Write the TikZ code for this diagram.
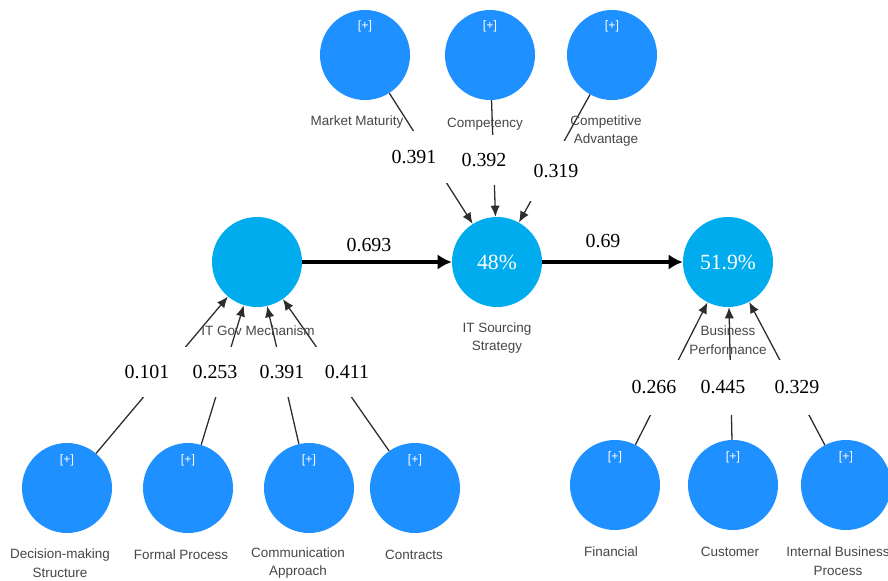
\documentclass[tikz,border=0pt]{standalone}
\usepackage{fontspec}
\setmainfont{Liberation Serif}
\setsansfont{Liberation Sans}
\usepackage{xcolor}
\usetikzlibrary{arrows.meta,positioning}
\definecolor{plsBlue}{RGB}{30,144,255}
\definecolor{plsCyan}{RGB}{0,172,238}
\definecolor{plsText}{RGB}{70,70,70}
\definecolor{plsLine}{RGB}{45,45,45}
\tikzset{
    indicatorCircle/.style={
        circle,
        fill=plsBlue,
        minimum size=2.7cm,
        inner sep=0pt
    },
    constructCircle/.style={
        circle,
        fill=plsCyan,
        minimum size=2.7cm,
        inner sep=0pt,
        text=white,
        font=\fontsize{18.5}{20}\selectfont
    },
    plusMark/.style={
        text=white,
        inner sep=0pt,
        font=\sffamily\fontsize{10.5}{11}\selectfont
    },
    nameLabel/.style={
        text=plsText,
        align=center,
        inner sep=0pt,
        font=\sffamily\fontsize{11.5}{16}\selectfont
    },
    weightLabel/.style={
        fill=white,
        inner sep=0pt,
        minimum width=2.1cm,
        minimum height=1.5cm,
        font=\fontsize{17}{19}\selectfont
    },
    pathLabel/.style={
        inner sep=0pt,
        font=\fontsize{17}{19}\selectfont
    },
    loadArrow/.style={
        -{Latex[length=9.5pt,width=8pt]},
        draw=plsLine,
        line width=1.1pt
    },
    pathArrow/.style={
        -{Latex[length=12pt,width=13pt]},
        line width=2.6pt
    }
}
\begin{document}
\begin{tikzpicture}[x=0.03cm,y=-0.03cm]
    \useasboundingbox (0,0) rectangle (888,580);

    \node[indicatorCircle] (mm) at (365,55) {};
    \node[indicatorCircle] (comp) at (490,55) {};
    \node[indicatorCircle] (ca) at (612,55) {};

    \node[constructCircle] (gov) at (257,262) {};
    \node[constructCircle] (itss) at (497,262) {48\%};
    \node[constructCircle] (bp) at (728,262) {51.9\%};

    \node[indicatorCircle] (dm) at (67,488) {};
    \node[indicatorCircle] (fp) at (188,488) {};
    \node[indicatorCircle] (cm) at (309,488) {};
    \node[indicatorCircle] (ct) at (415,488) {};

    \node[indicatorCircle] (fin) at (615,485) {};
    \node[indicatorCircle] (cus) at (733,485) {};
    \node[indicatorCircle] (ibp) at (846,485) {};

    \node[plusMark] (mmPlus) at ([yshift=0.87cm]mm.center) {[+]};
    \node[plusMark] (compPlus) at ([yshift=0.87cm]comp.center) {[+]};
    \node[plusMark] (caPlus) at ([yshift=0.87cm]ca.center) {[+]};
    \node[plusMark] (dmPlus) at ([yshift=0.84cm]dm.center) {[+]};
    \node[plusMark] (fpPlus) at ([yshift=0.84cm]fp.center) {[+]};
    \node[plusMark] (cmPlus) at ([yshift=0.84cm]cm.center) {[+]};
    \node[plusMark] (ctPlus) at ([yshift=0.84cm]ct.center) {[+]};
    \node[plusMark] (finPlus) at ([yshift=0.84cm]fin.center) {[+]};
    \node[plusMark] (cusPlus) at ([yshift=0.84cm]cus.center) {[+]};
    \node[plusMark] (ibpPlus) at ([yshift=0.84cm]ibp.center) {[+]};

    \draw[loadArrow] (mm) -- (itss);
    \draw[loadArrow] (comp) -- (itss);
    \draw[loadArrow] (ca) -- (itss);
    \draw[loadArrow] (dm) -- (gov);
    \draw[loadArrow] (fp) -- (gov);
    \draw[loadArrow] (cm) -- (gov);
    \draw[loadArrow] (ct) -- (gov);
    \draw[loadArrow] (fin) -- (bp);
    \draw[loadArrow] (cus) -- (bp);
    \draw[loadArrow] (ibp) -- (bp);

    \draw[pathArrow] (gov) -- (itss);
    \draw[pathArrow] (itss) -- (bp);

    \node[weightLabel,minimum height=1.56cm] (wMm) at (414,157) {0.391};
    \node[weightLabel] (wComp) at (484,160) {0.392};
    \node[weightLabel,minimum height=1.8cm] (wCa) at (556,171) {0.319};

    \node[weightLabel] (wDm) at (147,372) {0.101};
    \node[weightLabel] (wFp) at (215,372) {0.253};
    \node[weightLabel] (wCm) at (282,372) {0.391};
    \node[weightLabel] (wCt) at (347,372) {0.411};

    \node[weightLabel,minimum height=1.65cm] (wFin) at (654,387) {0.266};
    \node[weightLabel,minimum height=1.65cm] (wCus) at (723,387) {0.445};
    \node[weightLabel,minimum height=1.65cm] (wIbp) at (797,387) {0.329};

    \node[pathLabel] (wGov) at (369,245) {0.693};
    \node[pathLabel] (wItss) at (603,241) {0.69};

    \node[nameLabel] (mmName) at (357,122) {Market Maturity};
    \node[nameLabel] (compName) at (485,124) {Competency};
    \node[nameLabel] (caName) at (606,131) {Competitive\\Advantage};
    \node[nameLabel] (govName) at (258,331) {IT Gov Mechanism};
    \node[nameLabel] (itssName) at (497,338) {IT Sourcing\\Strategy};
    \node[nameLabel] (bpName) at (728,340) {Business\\Performance};
    \node[nameLabel] (dmName) at (60,563) {Decision-making\\Structure};
    \node[nameLabel] (fpName) at (181,555) {Formal Process};
    \node[nameLabel] (cmName) at (298,563) {Communication\\Approach};
    \node[nameLabel] (ctName) at (414,555) {Contracts};
    \node[nameLabel] (finName) at (611,552) {Financial};
    \node[nameLabel] (cusName) at (730,552) {Customer};
    \node[nameLabel] (ibpName) at (838,561) {Internal Business\\Process};
\end{tikzpicture}
\end{document}
